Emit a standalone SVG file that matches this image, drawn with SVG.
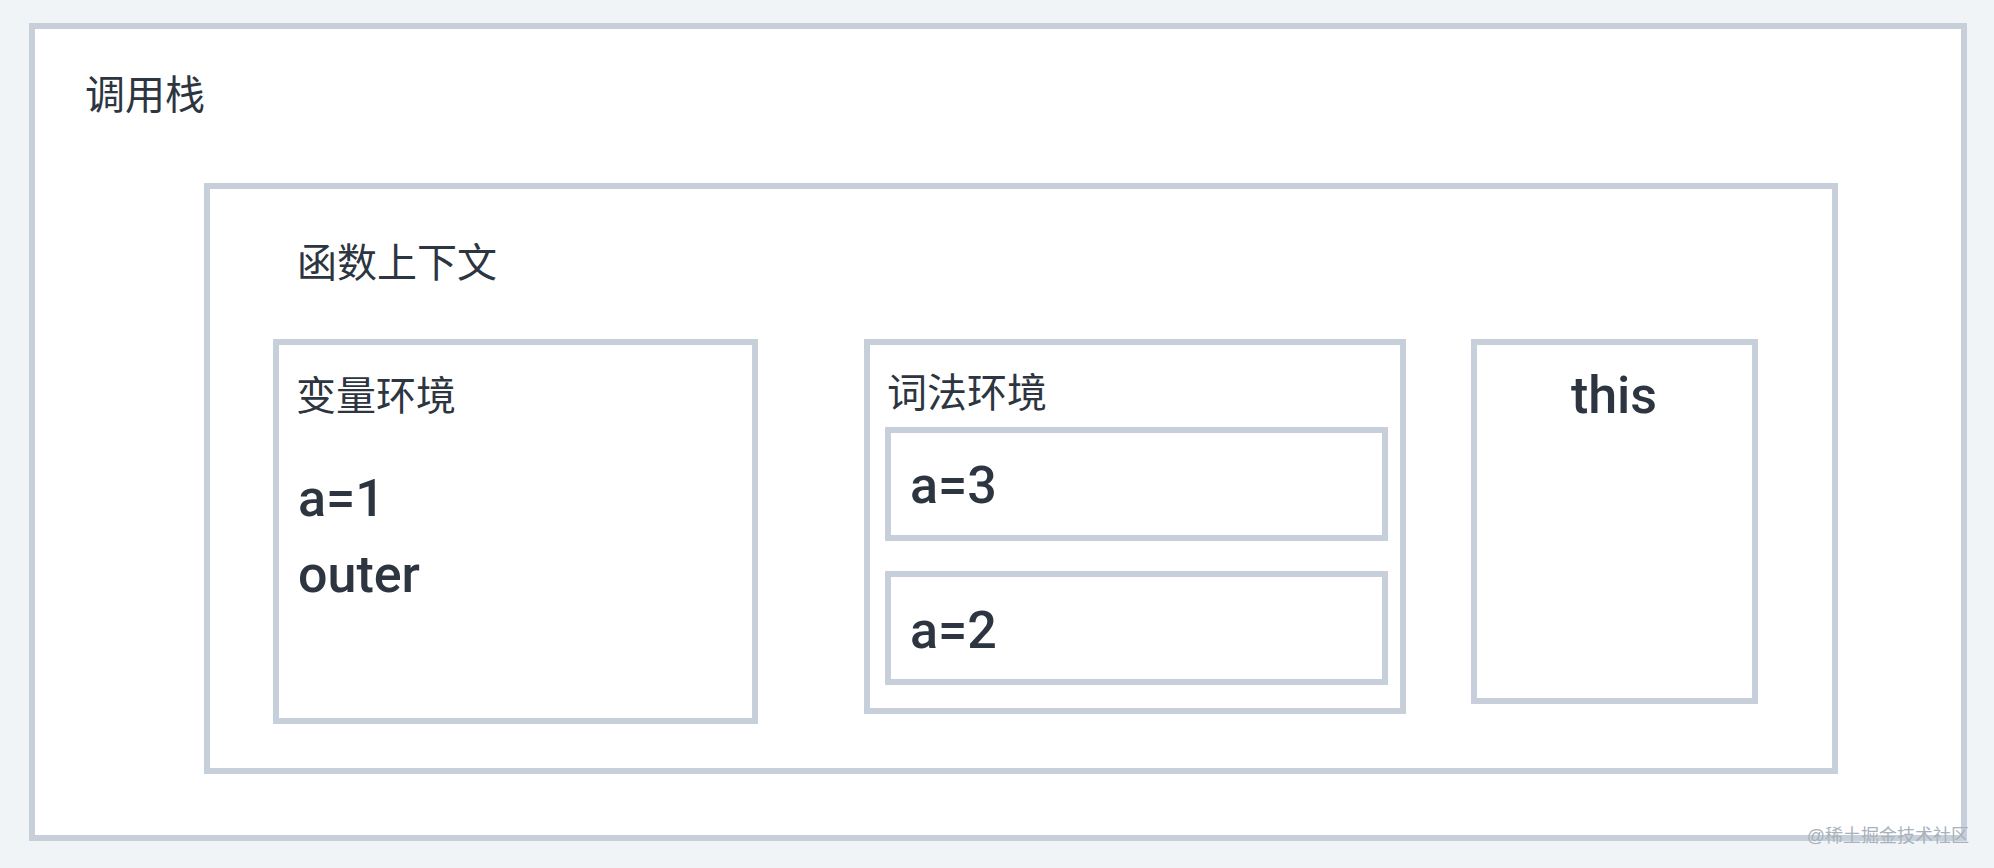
<svg xmlns="http://www.w3.org/2000/svg" width="1994" height="868" viewBox="0 0 1994 868">
  <style>
    .box { fill: #ffffff; stroke: #c7d0da; stroke-width: 6; }
    .cjk { font-family: "Liberation Sans", "Noto Sans CJK SC", sans-serif; font-size: 40px; fill: #2c3540; }
    .val { font-family: Roboto, "Liberation Sans", sans-serif; font-size: 52px; font-weight: 500; fill: #2c3540; }
    .wm { font-family: "Liberation Sans", "Noto Sans CJK SC", sans-serif; font-size: 18px; fill: #a9b1ba; }
  </style>
  <rect x="0" y="0" width="1994" height="868" fill="#f0f4f7"/>
  <g id="call-stack">
    <rect class="box" x="32" y="26" width="1932" height="812"/>
    <text class="cjk" x="85" y="109">调用栈</text>
  </g>
  <g id="function-context">
    <rect class="box" x="207" y="186" width="1628" height="585"/>
    <text class="cjk" x="297" y="277">函数上下文</text>
  </g>
  <g id="variable-env">
    <rect class="box" x="276" y="342" width="479" height="379"/>
    <text class="cjk" x="296" y="410">变量环境</text>
    <text class="val" x="298" y="516">a=1</text>
    <text class="val" x="298" y="592">outer</text>
  </g>
  <g id="lexical-env">
    <rect class="box" x="867" y="342" width="536" height="369"/>
    <text class="cjk" x="887" y="407">词法环境</text>
  </g>
  <g id="a3">
    <rect class="box" x="888" y="430" width="497" height="108"/>
    <text class="val" x="910" y="503">a=3</text>
  </g>
  <g id="a2">
    <rect class="box" x="888" y="574" width="497" height="108"/>
    <text class="val" x="910" y="648">a=2</text>
  </g>
  <g id="this">
    <rect class="box" x="1474" y="342" width="281" height="359"/>
    <text class="val" x="1614" y="413" text-anchor="middle">this</text>
  </g>
  <g id="connectors"></g>
  <text class="wm" x="1969" y="842" text-anchor="end">@稀土掘金技术社区</text>
</svg>
